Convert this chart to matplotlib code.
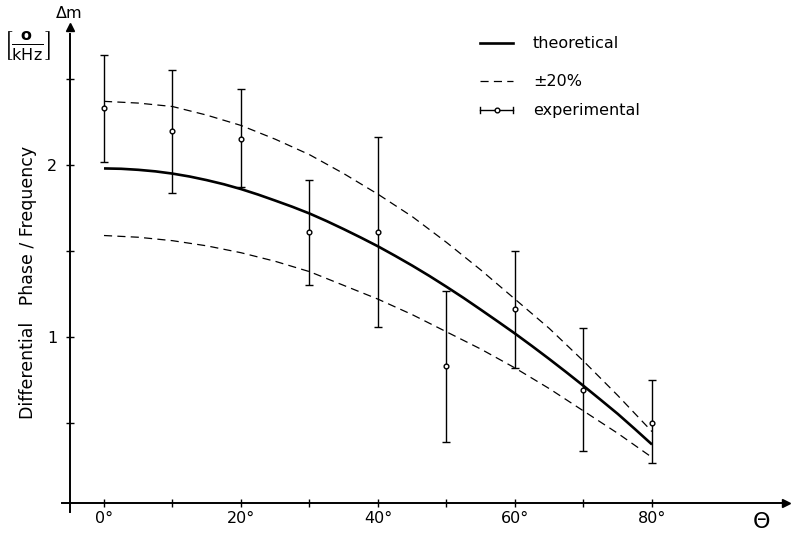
import matplotlib
matplotlib.use("Agg")
import matplotlib.pyplot as plt
from matplotlib.lines import Line2D

# values

theta_theory = [0, 2.5, 5, 7.5, 10, 12.5, 15, 17.5, 20, 22.5, 25, 27.5, 30, 32.5, 35, 37.5, 40,
                42.5, 45, 47.5, 50, 52.5, 55, 57.5, 60, 62.5, 65, 67.5, 70, 72.5, 75, 77.5, 80]
dm_theory = [1.980, 1.978, 1.972, 1.963, 1.950, 1.933, 1.912, 1.888, 1.860, 1.828, 1.793,
             1.757, 1.718, 1.674, 1.627, 1.578, 1.527, 1.472, 1.415, 1.355, 1.292, 1.227,
             1.159, 1.090, 1.020, 0.947, 0.872, 0.795, 0.716, 0.635, 0.553, 0.465, 0.375]

theta_band = [0, 5, 10, 15, 20, 25, 30, 35, 40, 45, 50, 55, 60, 65, 70, 75, 80]
dm_upper = [2.37, 2.36, 2.34, 2.29, 2.23, 2.15, 2.06, 1.95, 1.83, 1.70, 1.55, 1.39, 1.22, 1.05, 0.86, 0.66, 0.45]
dm_lower = [1.59, 1.58, 1.56, 1.53, 1.49, 1.44, 1.38, 1.30, 1.22, 1.13, 1.03, 0.93, 0.82, 0.70, 0.57, 0.44, 0.30]

theta_exp = [0, 10, 20, 30, 40, 50, 60, 70, 80]
dm_exp = [2.33, 2.20, 2.15, 1.61, 1.61, 0.83, 1.16, 0.69, 0.50]
dm_exp_top = [2.64, 2.55, 2.44, 1.91, 2.16, 1.27, 1.50, 1.05, 0.75]
dm_exp_bottom = [2.02, 1.84, 1.87, 1.30, 1.06, 0.39, 0.82, 0.34, 0.27]

x_ticks = [0, 10, 20, 30, 40, 50, 60, 70, 80]
x_tick_labels = ["0°", "", "20°", "", "40°", "", "60°", "", "80°"]
y_ticks = [0.5, 1.0, 1.5, 2.0, 2.5]
y_tick_labels = ["", "1", "", "2", ""]

plt.rcParams['font.family'] = ['DejaVu Sans']
plt.rcParams['mathtext.fontset'] = 'dejavusans'

W, H = 791, 535
fig = plt.figure(figsize=(W / 100, H / 100), dpi=100)
ax = fig.add_axes([0.04488, 0.01645, 0.95259, 0.96449])
ax.set_xlim(-10, 100)
ax.set_ylim(-0.1, 2.9)


def px(x, y):
    # pixel position (from top left) -> figure fraction
    return x / W, 1 - y / H


# curves

ax.plot(theta_theory, dm_theory, color='black', lw=1.9, solid_capstyle='butt')
ax.plot(theta_band, dm_upper, color='black', lw=0.9, dashes=(6.5, 4.2))
ax.plot(theta_band, dm_lower, color='black', lw=0.9, dashes=(6.5, 4.2))

# experimental points with error bars

err_low = [p - b for p, b in zip(dm_exp, dm_exp_bottom)]
err_high = [t - p for p, t in zip(dm_exp, dm_exp_top)]
ax.errorbar(theta_exp, dm_exp, yerr=[err_low, err_high], fmt='o', ms=3.4,
            mfc='white', mec='black', mew=1.0, ecolor='black',
            elinewidth=1.0, capsize=3, capthick=1.0, zorder=3)

# axes drawn as crossing lines with arrow heads

for side in ['top', 'right']:
    ax.spines[side].set_visible(False)
ax.spines['left'].set_position(('data', -5))
ax.spines['left'].set_bounds(-0.02, 2.76)
ax.spines['bottom'].set_position(('data', 0.035))
ax.spines['bottom'].set_bounds(-6.2, 99)
for side in ['left', 'bottom']:
    ax.spines[side].set_linewidth(1.4)
ax.plot([-5], [2.80], marker='^', ms=6, color='black', clip_on=False)
ax.plot([99.6], [0.035], marker='>', ms=6, color='black', clip_on=False)

ax.set_xticks(x_ticks)
ax.set_xticklabels(x_tick_labels, fontsize=11.5)
ax.set_yticks(y_ticks)
ax.set_yticklabels(y_tick_labels, fontsize=11.5)
ax.tick_params(axis='both', direction='inout', length=6, width=1.0, pad=3)
ax.tick_params(axis='y', pad=6)

# labels

fig.text(*px(762, 522), "Θ", fontsize=16, ha='center', va='center')
fig.text(*px(69, 13), "Δm", fontsize=11.5, ha='center', va='center')
fig.text(*px(27, 46), r"$\left[\frac{\mathbf{o}}{\mathrm{kHz}}\right]$", fontsize=16.5,
         ha='center', va='center')
fig.text(*px(28, 282), "Differential   Phase / Frequency", fontsize=12.5,
         rotation=90, ha='center', va='center')

# legend

legend_rows = [(43, "theoretical"), (81, "±20%"), (110, "experimental")]
fig.add_artist(Line2D([px(480, 0)[0], px(513, 0)[0]], [px(0, 43)[1]] * 2,
                      color='black', lw=1.9, transform=fig.transFigure))
fig.add_artist(Line2D([px(480, 0)[0], px(513, 0)[0]], [px(0, 81)[1]] * 2,
                      color='black', lw=0.9, dashes=(6.5, 4.2), transform=fig.transFigure))
fig.add_artist(Line2D([px(480, 0)[0], px(513, 0)[0]], [px(0, 110)[1]] * 2,
                      color='black', lw=1.0, transform=fig.transFigure))
fig.add_artist(Line2D([px(496.5, 0)[0]], [px(0, 110)[1]], marker='o', ms=3.4,
                      mfc='white', mec='black', mew=1.0, transform=fig.transFigure))
for xe in [480, 513]:
    fig.add_artist(Line2D([px(xe, 0)[0]] * 2, [px(0, 107)[1], px(0, 113)[1]],
                          color='black', lw=1.0, transform=fig.transFigure))
for y, label in legend_rows:
    fig.text(*px(533, y), label, fontsize=11.5, ha='left', va='center')

fig.savefig("out.png", dpi=100)
